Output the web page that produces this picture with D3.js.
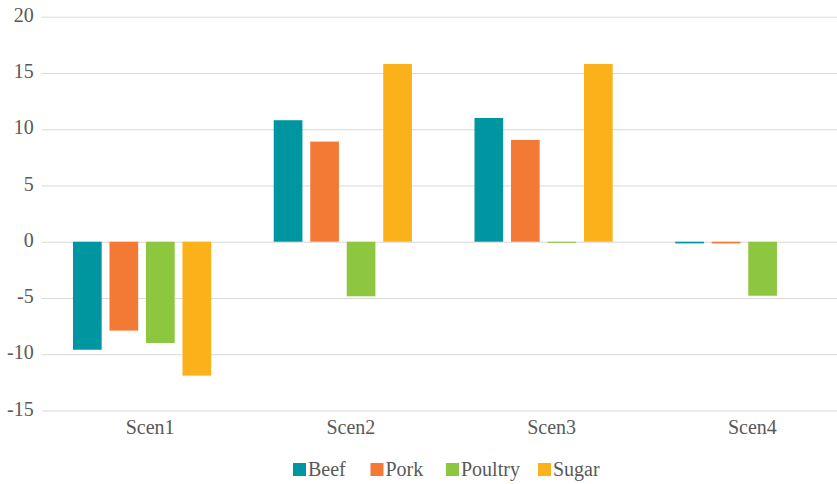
<!DOCTYPE html>
<html>
<head>
<meta charset="utf-8">
<script src="https://cdn.jsdelivr.net/npm/d3@7/dist/d3.min.js"></script>
<style>
  html, body { margin: 0; padding: 0; background: #fff; }
  svg { display: block; }
</style>
</head>
<body>
<svg id="chart" width="837" height="484" font-family="Liberation Serif"></svg>
<script>
// Scenario groups along the x axis
const scenarios = ["Scen1", "Scen2", "Scen3", "Scen4"];
// Commodity series drawn within each scenario
const commodities = ["Beef", "Pork", "Poultry", "Sugar"];
const beef    = [-9.6, 10.8, 11.0, -0.15];
const pork    = [-7.9,  8.9,  9.05, -0.15];
const poultry = [-9.0, -4.85, -0.1, -4.8];
const sugar   = [-11.9, 15.8, 15.8, 0];
const yTicks  = [-15, -10, -5, 0, 5, 10, 15, 20];
const colors  = ["#0096a1", "#f37a35", "#8dc63f", "#fbb11a"];

const seriesValues = [beef, pork, poultry, sugar];

const FONT = "Liberation Serif";
const FONT_SIZE = 20;
const TEXT_COLOR = "#595959";
const width = 837, height = 484;
const svg = d3.select("#chart");

const y = d3.scaleLinear()
  .domain([-15, 20])
  .range([410.5, 16.7]);

// Plot area runs a little past the right edge of the canvas
const x0 = d3.scaleBand()
  .domain(scenarios)
  .range([41.7, 844.7]);

// Four bars per scenario with equal gaps
const x1 = d3.scaleBand()
  .domain(commodities)
  .range([0, 138.2])
  .paddingInner(0.214);

// Gridlines and y tick labels
const yAxis = d3.axisLeft(y)
  .tickValues(yTicks)
  .tickFormat(d => String(d))
  .tickSize(-(width - 41.7))
  .tickPadding(8);
const gy = svg.append("g")
  .attr("transform", "translate(41.7,0)")
  .call(yAxis);
gy.attr("font-family", FONT).attr("font-size", FONT_SIZE);
gy.select(".domain").remove();
gy.selectAll(".tick line").attr("stroke", "#d9d9d9").attr("stroke-width", 1);
gy.selectAll(".tick text")
  .attr("x", -8)
  .attr("dy", "0.23em")
  .attr("font-family", FONT)
  .attr("font-size", FONT_SIZE)
  .attr("fill", TEXT_COLOR);

// Bars
const groups = svg.append("g")
  .selectAll("g")
  .data(scenarios)
  .join("g")
  .attr("transform", d => `translate(${x0(d) + x0.bandwidth() / 2 - 69.1},0)`);

groups.selectAll("rect")
  .data((s, i) => commodities.map((c, k) => ({ c, k, v: seriesValues[k][i] })))
  .join("rect")
  .attr("x", d => x1(d.c))
  .attr("width", x1.bandwidth())
  .attr("y", d => y(Math.max(0, d.v)))
  .attr("height", d => Math.abs(y(d.v) - y(0)))
  .attr("fill", d => colors[d.k]);

// Category labels
svg.append("g")
  .selectAll("text")
  .data(scenarios)
  .join("text")
  .attr("x", d => x0(d) + x0.bandwidth() / 2 + 8)
  .attr("y", 434)
  .attr("text-anchor", "middle")
  .attr("font-family", FONT)
  .attr("font-size", FONT_SIZE)
  .attr("fill", TEXT_COLOR)
  .text(d => d);

// Legend
const legendX = [293, 370.5, 446, 538];
const legend = svg.append("g")
  .selectAll("g")
  .data(commodities)
  .join("g")
  .attr("transform", (d, i) => `translate(${legendX[i]},463)`);
legend.append("rect")
  .attr("width", 13)
  .attr("height", 13)
  .attr("fill", (d, i) => colors[i]);
legend.append("text")
  .attr("x", 15)
  .attr("y", 13)
  .attr("font-family", FONT)
  .attr("font-size", FONT_SIZE)
  .attr("fill", TEXT_COLOR)
  .text(d => d);
</script>
</body>
</html>
